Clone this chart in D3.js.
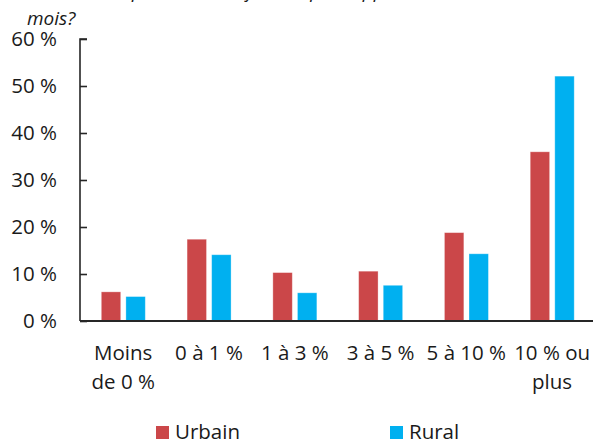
<!DOCTYPE html>
<html>
<head>
<meta charset="utf-8">
<script src="https://cdn.jsdelivr.net/npm/d3@7"></script>
<style>
  body { margin: 0; background: #fff; }
  svg text { font-family: "Open Sans", sans-serif; fill: #1a1a1a; }
</style>
</head>
<body>
<div id="chart"></div>
<script>
// data
const categories = ["Moins de 0 %", "0 à 1 %", "1 à 3 %", "3 à 5 %", "5 à 10 %", "10 % ou plus"];
const catLines = [["Moins", "de 0 %"], ["0 à 1 %"], ["1 à 3 %"], ["3 à 5 %"], ["5 à 10 %"], ["10 % ou", "plus"]];
const series = ["Urbain", "Rural"];
const urbain = [6.2, 17.4, 10.3, 10.6, 18.8, 36.0];
const rural = [5.2, 14.1, 6.0, 7.6, 14.3, 52.1];
const yTicks = [0, 10, 20, 30, 40, 50, 60];
const colors = ["#CB4749", "#00B0F0"];

const width = 593, height = 444;

const svg = d3.select("#chart").append("svg")
    .attr("width", width)
    .attr("height", height)

// title (top line cut off in the original)
svg.append("text")
    .attr("x", 27).attr("y", -2)
    .style("font-style", "italic").style("font-size", "19px")
    .text("Selon vous, quelle sera l'inflation, par rapport aux 12 derniers")
svg.append("text")
    .attr("x", 27).attr("y", 25)
    .style("font-style", "italic").style("font-size", "19px")
    .text("mois?")

const x0 = d3.scaleBand().domain(categories).range([80.3, 595]).padding(0)
const x1 = d3.scaleBand().domain(series).range([21, 65]).paddingInner(0.21)
const y = d3.scaleLinear().domain([0, 60]).range([321, 39])

const rows = categories.map((c, i) => ({ cat: c, vals: [urbain[i], rural[i]] }))

const groups = svg.append("g").selectAll("g")
    .data(rows)
    .enter().append("g")
    .attr("transform", d => "translate(" + x0(d.cat) + ",0)")

groups.selectAll("rect")
    .data(d => d.vals.map((v, j) => ({ s: series[j], v: v, c: colors[j] })))
    .enter().append("rect")
    .attr("x", d => x1(d.s))
    .attr("y", d => y(d.v))
    .attr("width", x1.bandwidth())
    .attr("height", d => y(0) - y(d.v))
    .attr("fill", d => d.c)
    .attr("stroke", "#fff")
    .attr("stroke-opacity", 0.4)
    .attr("stroke-width", 0.8)

// y axis with inside ticks
const yAxis = svg.append("g")
    .attr("transform", "translate(80,0)")
    .call(d3.axisRight(y).tickValues(yTicks).tickSize(7).tickFormat(""))
yAxis.select(".domain").attr("d", "M7," + y(60) + "H0V" + y(0))
yAxis.selectAll("path, line").attr("stroke", "#262626").attr("stroke-width", 1.6)

svg.append("g").selectAll("text")
    .data(yTicks)
    .enter().append("text")
    .attr("x", 57)
    .attr("y", d => y(d))
    .attr("dy", "0.36em")
    .attr("text-anchor", "end")
    .style("font-size", "20.5px")
    .text(d => d + " %")

// x baseline
svg.append("line")
    .attr("x1", 80).attr("x2", 595)
    .attr("y1", y(0)).attr("y2", y(0))
    .attr("stroke", "#262626").attr("stroke-width", 2)

// category labels
const lab = svg.append("g").selectAll("text")
    .data(categories)
    .enter().append("text")
    .attr("text-anchor", "middle")
    .attr("transform", d => "translate(" + (x0(d) + x0.bandwidth() / 2) + ",360)")
    .style("font-size", "20.5px")
lab.selectAll("tspan")
    .data((d, i) => catLines[i])
    .enter().append("tspan")
    .attr("x", 0)
    .attr("y", (d, i) => i * 29)
    .text(d => d)

// legend
const legX = [156, 390]
const leg = svg.append("g").selectAll("g")
    .data(series)
    .enter().append("g")
    .attr("transform", (d, i) => "translate(" + legX[i] + ",426)")
leg.append("rect")
    .attr("width", 13).attr("height", 13)
    .attr("fill", (d, i) => colors[i])
leg.append("text")
    .attr("x", 19).attr("y", 13)
    .style("font-size", "20.5px")
    .text(d => d)
</script>
</body>
</html>
